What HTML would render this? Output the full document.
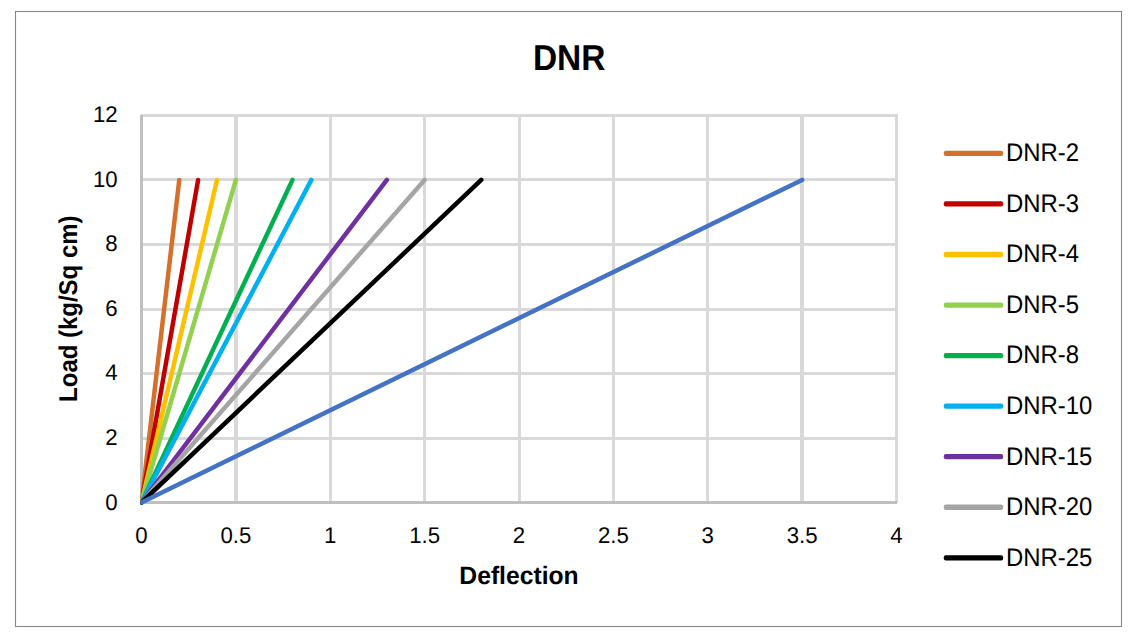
<!DOCTYPE html>
<html><head><meta charset="utf-8"><style>
html,body{margin:0;padding:0;background:#fff;width:1133px;height:637px;overflow:hidden}
svg{display:block}
text{font-family:"Liberation Sans", sans-serif;fill:#000;text-rendering:geometricPrecision}
</style></head><body>
<svg width="1133" height="637" viewBox="0 0 1133 637">
<rect x="15.5" y="11.5" width="1106" height="615" fill="#fff" stroke="#868686" stroke-width="1.1"/>
<rect x="141" y="114" width="757" height="3" fill="#d9d9d9"/>
<rect x="141" y="178" width="757" height="3" fill="#d9d9d9"/>
<rect x="141" y="243" width="757" height="3" fill="#d9d9d9"/>
<rect x="141" y="308" width="757" height="3" fill="#d9d9d9"/>
<rect x="141" y="372" width="757" height="3" fill="#d9d9d9"/>
<rect x="141" y="437" width="757" height="3" fill="#d9d9d9"/>
<rect x="234" y="114" width="4" height="389" fill="#d9d9d9"/>
<rect x="329" y="114" width="3" height="389" fill="#d9d9d9"/>
<rect x="423" y="114" width="3" height="389" fill="#d9d9d9"/>
<rect x="518" y="114" width="3" height="389" fill="#d9d9d9"/>
<rect x="612" y="114" width="3" height="389" fill="#d9d9d9"/>
<rect x="706" y="114" width="3" height="389" fill="#d9d9d9"/>
<rect x="800" y="114" width="4" height="389" fill="#d9d9d9"/>
<rect x="895" y="114" width="3" height="389" fill="#d9d9d9"/>
<rect x="140" y="115" width="3" height="389" fill="#bfbfbf"/>
<rect x="140" y="501" width="757" height="3" fill="#bfbfbf"/>
<defs><clipPath id="pc"><rect x="140.6" y="20" width="800" height="484.8"/></clipPath></defs><g clip-path="url(#pc)">
<line x1="141.50" y1="502.50" x2="179.25" y2="179.92" stroke="#D4702B" stroke-width="4.5" stroke-linecap="round"/>
<line x1="141.50" y1="502.50" x2="198.12" y2="179.92" stroke="#C00000" stroke-width="4.5" stroke-linecap="round"/>
<line x1="141.50" y1="502.50" x2="217.00" y2="179.92" stroke="#FFC000" stroke-width="4.5" stroke-linecap="round"/>
<line x1="141.50" y1="502.50" x2="235.88" y2="179.92" stroke="#92D050" stroke-width="4.5" stroke-linecap="round"/>
<line x1="141.50" y1="502.50" x2="292.50" y2="179.92" stroke="#00B050" stroke-width="4.5" stroke-linecap="round"/>
<line x1="141.50" y1="502.50" x2="311.38" y2="179.92" stroke="#00B0F0" stroke-width="4.5" stroke-linecap="round"/>
<line x1="141.50" y1="502.50" x2="386.88" y2="179.92" stroke="#7030A0" stroke-width="4.5" stroke-linecap="round"/>
<line x1="141.50" y1="502.50" x2="424.62" y2="179.92" stroke="#A5A5A5" stroke-width="4.5" stroke-linecap="round"/>
<line x1="141.50" y1="502.50" x2="481.25" y2="179.92" stroke="#000000" stroke-width="4.5" stroke-linecap="round"/>
<line x1="141.50" y1="502.50" x2="802.12" y2="179.92" stroke="#4472C4" stroke-width="4.5" stroke-linecap="round"/>
</g>
<text x="117.7" y="509.50" text-anchor="end" font-size="22.7" textLength="12.35" lengthAdjust="spacingAndGlyphs">0</text>
<text x="117.7" y="444.98" text-anchor="end" font-size="22.7" textLength="12.35" lengthAdjust="spacingAndGlyphs">2</text>
<text x="117.7" y="380.47" text-anchor="end" font-size="22.7" textLength="12.35" lengthAdjust="spacingAndGlyphs">4</text>
<text x="117.7" y="315.95" text-anchor="end" font-size="22.7" textLength="12.35" lengthAdjust="spacingAndGlyphs">6</text>
<text x="117.7" y="251.43" text-anchor="end" font-size="22.7" textLength="12.35" lengthAdjust="spacingAndGlyphs">8</text>
<text x="117.7" y="186.92" text-anchor="end" font-size="22.7" textLength="24.69" lengthAdjust="spacingAndGlyphs">10</text>
<text x="117.7" y="122.40" text-anchor="end" font-size="22.7" textLength="24.69" lengthAdjust="spacingAndGlyphs">12</text>
<text x="141.50" y="543.1" text-anchor="middle" font-size="22.7" textLength="12.35" lengthAdjust="spacingAndGlyphs">0</text>
<text x="235.88" y="543.1" text-anchor="middle" font-size="22.7" textLength="30.86" lengthAdjust="spacingAndGlyphs">0.5</text>
<text x="330.25" y="543.1" text-anchor="middle" font-size="22.7" textLength="12.35" lengthAdjust="spacingAndGlyphs">1</text>
<text x="424.62" y="543.1" text-anchor="middle" font-size="22.7" textLength="30.86" lengthAdjust="spacingAndGlyphs">1.5</text>
<text x="519.00" y="543.1" text-anchor="middle" font-size="22.7" textLength="12.35" lengthAdjust="spacingAndGlyphs">2</text>
<text x="613.38" y="543.1" text-anchor="middle" font-size="22.7" textLength="30.86" lengthAdjust="spacingAndGlyphs">2.5</text>
<text x="707.75" y="543.1" text-anchor="middle" font-size="22.7" textLength="12.35" lengthAdjust="spacingAndGlyphs">3</text>
<text x="802.12" y="543.1" text-anchor="middle" font-size="22.7" textLength="30.86" lengthAdjust="spacingAndGlyphs">3.5</text>
<text x="896.50" y="543.1" text-anchor="middle" font-size="22.7" textLength="12.35" lengthAdjust="spacingAndGlyphs">4</text>
<text x="569.2" y="70.2" text-anchor="middle" font-size="36" font-weight="bold" textLength="72.5" lengthAdjust="spacingAndGlyphs">DNR</text>
<text x="519" y="584" text-anchor="middle" font-size="25.1" font-weight="bold" textLength="119.3" lengthAdjust="spacingAndGlyphs">Deflection</text>
<text transform="translate(77.1,308.7) rotate(-90)" x="0" y="0" text-anchor="middle" font-size="25.7" font-weight="bold" textLength="186.4" lengthAdjust="spacingAndGlyphs">Load (kg/Sq cm)</text>
<rect x="943.8" y="150.75" width="59.3" height="5.3" rx="2" fill="#D4702B"/>
<text x="1006" y="161.20" font-size="25.4" textLength="73.03" lengthAdjust="spacingAndGlyphs">DNR-2</text>
<rect x="943.8" y="201.30" width="59.3" height="5.3" rx="2" fill="#C00000"/>
<text x="1006" y="211.75" font-size="25.4" textLength="73.03" lengthAdjust="spacingAndGlyphs">DNR-3</text>
<rect x="943.8" y="251.85" width="59.3" height="5.3" rx="2" fill="#FFC000"/>
<text x="1006" y="262.30" font-size="25.4" textLength="73.03" lengthAdjust="spacingAndGlyphs">DNR-4</text>
<rect x="943.8" y="302.40" width="59.3" height="5.3" rx="2" fill="#92D050"/>
<text x="1006" y="312.85" font-size="25.4" textLength="73.03" lengthAdjust="spacingAndGlyphs">DNR-5</text>
<rect x="943.8" y="352.95" width="59.3" height="5.3" rx="2" fill="#00B050"/>
<text x="1006" y="363.40" font-size="25.4" textLength="73.03" lengthAdjust="spacingAndGlyphs">DNR-8</text>
<rect x="943.8" y="403.50" width="59.3" height="5.3" rx="2" fill="#00B0F0"/>
<text x="1006" y="413.95" font-size="25.4" textLength="86.32" lengthAdjust="spacingAndGlyphs">DNR-10</text>
<rect x="943.8" y="454.05" width="59.3" height="5.3" rx="2" fill="#7030A0"/>
<text x="1006" y="464.50" font-size="25.4" textLength="86.32" lengthAdjust="spacingAndGlyphs">DNR-15</text>
<rect x="943.8" y="504.60" width="59.3" height="5.3" rx="2" fill="#A5A5A5"/>
<text x="1006" y="515.05" font-size="25.4" textLength="86.32" lengthAdjust="spacingAndGlyphs">DNR-20</text>
<rect x="943.8" y="555.15" width="59.3" height="5.3" rx="2" fill="#000000"/>
<text x="1006" y="565.60" font-size="25.4" textLength="86.32" lengthAdjust="spacingAndGlyphs">DNR-25</text>
</svg>
</body></html>
